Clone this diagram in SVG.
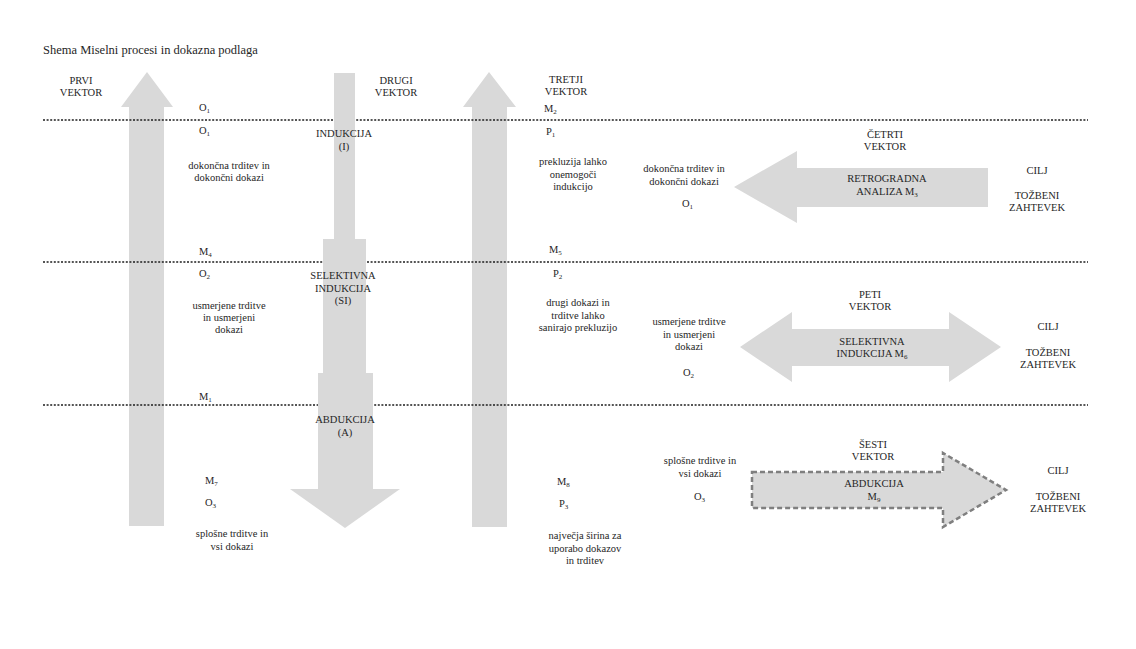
<svg xmlns="http://www.w3.org/2000/svg" width="1136" height="649" viewBox="0 0 1136 649">
<style>
text{font-family:"Liberation Serif","Times New Roman",serif;font-size:10.5px;fill:#262626}
.c{text-anchor:middle}
.t{font-size:12.5px}
.sub{font-size:7px}
.arr{fill:#d9d9d9}
.dl{stroke:#1e1e1e;stroke-width:1.4;stroke-dasharray:2 1.6;fill:none}
.da{fill:#d9d9d9;stroke:#7f7f7f;stroke-width:2.5;stroke-dasharray:5 3}
</style>
<rect width="1136" height="649" fill="#fff"/>
<text x="43" y="54" class="t">Shema Miselni procesi in dokazna podlaga</text>
<g id="vektor1">
<polygon class="arr" points="147,72 173,107 164,107 164,526 129,526 129,107 121,107"/>
<text class="c" x="81" y="84">PRVI</text><text class="c" x="81" y="96">VEKTOR</text>
</g>
<g id="vektor3">
<polygon class="arr" points="489,72 516,107 507,107 507,527 472,527 472,107 463,107"/>
<text class="c" x="566" y="83">TRETJI</text><text class="c" x="566" y="95">VEKTOR</text>
</g>
<g id="connectors">
<line class="dl" x1="43" y1="120" x2="1088" y2="120"/>
<line class="dl" x1="43" y1="262" x2="1088" y2="262"/>
<line class="dl" x1="43" y1="405" x2="1088" y2="405"/>
</g>
<g id="vektor2">
<rect class="arr" x="334" y="73" width="21" height="168"/>
<rect class="arr" x="323" y="239" width="43" height="135"/>
<polygon class="arr" points="318,373 373,373 373,489 400,489 345,528 290,489 318,489"/>
<text class="c" x="396" y="84">DRUGI</text><text class="c" x="396" y="96">VEKTOR</text>
<text class="c" x="344" y="137">INDUKCIJA</text><text class="c" x="344" y="150">(I)</text>
<text class="c" x="343" y="279">SELEKTIVNA</text><text class="c" x="343" y="292">INDUKCIJA</text><text class="c" x="343" y="304">(SI)</text>
<text class="c" x="345" y="423">ABDUKCIJA</text><text class="c" x="345" y="436">(A)</text>
</g>
<g id="stolpec1">
<text x="199" y="111">O<tspan class="sub" dy="2">1</tspan></text>
<text x="199" y="134">O<tspan class="sub" dy="2">1</tspan></text>
<text class="c" x="229" y="169">dokončna trditev in</text><text class="c" x="229" y="181">dokončni dokazi</text>
<text x="199" y="255">M<tspan class="sub" dy="2">4</tspan></text>
<text x="199" y="277">O<tspan class="sub" dy="2">2</tspan></text>
<text class="c" x="229" y="309">usmerjene trditve</text><text class="c" x="229" y="321">in usmerjeni</text><text class="c" x="229" y="333">dokazi</text>
<text x="199" y="400">M<tspan class="sub" dy="2">1</tspan></text>
<text x="205" y="484">M<tspan class="sub" dy="2">7</tspan></text>
<text x="205" y="506">O<tspan class="sub" dy="2">3</tspan></text>
<text class="c" x="232" y="537">splošne trditve in</text><text class="c" x="232" y="550">vsi dokazi</text>
</g>
<g id="stolpec3">
<text x="544" y="112">M<tspan class="sub" dy="2">2</tspan></text>
<text x="546" y="135">P<tspan class="sub" dy="2">1</tspan></text>
<text class="c" x="573" y="165">prekluzija lahko</text><text class="c" x="573" y="177.5">onemogoči</text><text class="c" x="573" y="190">indukcijo</text>
<text x="549" y="253">M<tspan class="sub" dy="2">5</tspan></text>
<text x="553" y="277">P<tspan class="sub" dy="2">2</tspan></text>
<text class="c" x="578" y="306">drugi dokazi in</text><text class="c" x="578" y="318.5">trditve lahko</text><text class="c" x="578" y="331">sanirajo prekluzijo</text>
<text x="557" y="485">M<tspan class="sub" dy="2">8</tspan></text>
<text x="559" y="507">P<tspan class="sub" dy="2">3</tspan></text>
<text class="c" x="585" y="539">največja širina za</text><text class="c" x="585" y="552">uporabo dokazov</text><text class="c" x="585" y="564">in trditev</text>
</g>
<g id="vektor4">
<polygon class="arr" points="734,187 797,151 797,168 988,168 988,207 797,207 797,223"/>
<text class="c" x="885" y="138">ČETRTI</text><text class="c" x="885" y="150">VEKTOR</text>
<text class="c" x="887" y="182">RETROGRADNA</text><text class="c" x="887" y="195">ANALIZA M<tspan class="sub" dy="2">3</tspan></text>
<text class="c" x="684" y="172">dokončna trditev in</text><text class="c" x="684" y="185">dokončni dokazi</text>
<text x="682" y="207">O<tspan class="sub" dy="2">1</tspan></text>
<text class="c" x="1037" y="174">CILJ</text><text class="c" x="1037" y="199">TOŽBENI</text><text class="c" x="1037" y="211">ZAHTEVEK</text>
</g>
<g id="vektor5">
<polygon class="arr" points="740,347 792,312 792,329 949,329 949,312 1001,347 949,382 949,366 792,366 792,382"/>
<text class="c" x="870" y="298">PETI</text><text class="c" x="870" y="310">VEKTOR</text>
<text class="c" x="872" y="345">SELEKTIVNA</text><text class="c" x="872" y="357">INDUKCIJA M<tspan class="sub" dy="2">6</tspan></text>
<text class="c" x="689" y="325">usmerjene trditve</text><text class="c" x="689" y="337.5">in usmerjeni</text><text class="c" x="689" y="350">dokazi</text>
<text x="683" y="376">O<tspan class="sub" dy="2">2</tspan></text>
<text class="c" x="1048" y="330">CILJ</text><text class="c" x="1048" y="356">TOŽBENI</text><text class="c" x="1048" y="368">ZAHTEVEK</text>
</g>
<g id="vektor6">
<polygon class="da" points="752,472 943,472 943,453 1006,490 943,527 943,508 752,508"/>
<text class="c" x="873" y="448">ŠESTI</text><text class="c" x="873" y="460">VEKTOR</text>
<text class="c" x="874" y="487">ABDUKCIJA</text><text class="c" x="874" y="500">M<tspan class="sub" dy="2">9</tspan></text>
<text class="c" x="700" y="464">splošne trditve in</text><text class="c" x="700" y="477">vsi dokazi</text>
<text x="694" y="500">O<tspan class="sub" dy="2">3</tspan></text>
<text class="c" x="1058" y="474">CILJ</text><text class="c" x="1058" y="500">TOŽBENI</text><text class="c" x="1058" y="512">ZAHTEVEK</text>
</g>
</svg>
